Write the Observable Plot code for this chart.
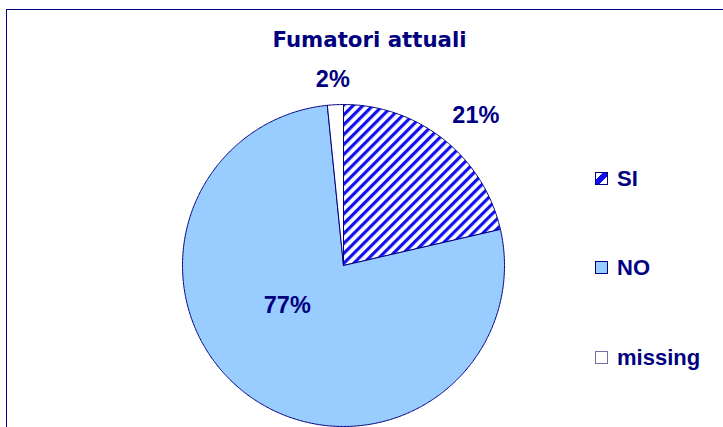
<!DOCTYPE html>
<html><head><meta charset="utf-8">
<script src="https://cdn.jsdelivr.net/npm/d3@7"></script>
<script src="https://cdn.jsdelivr.net/npm/@observablehq/plot@0.6"></script>
<style>
body{margin:0;background:#fff;overflow:hidden;}
#wrap{position:relative;width:723px;height:427px;overflow:hidden;font-family:"Liberation Sans",Arial,sans-serif;color:#000080;background:#fff;}
#frame{position:absolute;left:6px;top:9px;width:800px;height:500px;border:1.5px solid #000080;box-sizing:border-box;}
#chart{position:absolute;left:0;top:0;}
#title{position:absolute;left:369.5px;top:29px;transform:translateX(-50%);white-space:nowrap;font-family:"DejaVu Sans",sans-serif;font-weight:bold;font-size:21.3px;line-height:21px;color:#000080;}
.item{position:absolute;left:595px;display:flex;align-items:flex-start;font-weight:bold;font-size:22px;line-height:22px;white-space:nowrap;}
.sw{width:11px;height:11px;border:1px solid #000080;margin-top:4px;margin-right:9px;flex:none;}
</style>
</head><body>
<div id="wrap">
  <div id="frame"></div>
  <div id="chart"></div>
  <div id="title">Fumatori attuali</div>
  <div id="legend"></div>
</div>
<script>
// ---- data ----
const title = "Fumatori attuali";
const categories = ["SI", "NO", "missing"];
const values = [21.4, 77.0, 1.6];

// ---- styles ----
const W = 723, H = 427;
const cx = 343, cy = 265, R = 161;
const navy = "#000080";
const hatchBlue = "#1010f0";
const fills = {SI: "url(#hatch)", NO: "#99ccff", missing: "#ffffff"};
const legendBg = {
  SI: "linear-gradient(to bottom right, #fff 30%, " + hatchBlue + " 30%, " + hatchBlue + " 64%, #fff 64%)",
  NO: "#99ccff",
  missing: "#ffffff"
};
const legendBorder = {SI: navy, NO: navy, missing: "#7070a8"};
const labelRadius = {SI: 1.2, NO: 0.45, missing: 1.2};
const labelNudge = {SI: [12, 1], NO: [-14, -19], missing: [-1, 7]};

// ---- geometry from values ----
const total = d3.sum(values);
let acc = 0;
const slices = categories.map((c, i) => {
  const a0 = acc / total * 2 * Math.PI;
  acc += values[i];
  const a1 = acc / total * 2 * Math.PI;
  return {c, v: values[i], a0, a1, mid: (a0 + a1) / 2, label: Math.round(values[i]) + "%"};
});
function polygon(s) {
  const pts = [{x: 0, y: 0}];
  const n = Math.max(2, Math.ceil((s.a1 - s.a0) / (Math.PI / 360)));
  for (let k = 0; k <= n; k++) {
    const a = s.a0 + (s.a1 - s.a0) * k / n;
    pts.push({x: Math.sin(a), y: Math.cos(a)});
  }
  pts.push({x: 0, y: 0});
  return pts;
}
const labelData = slices.map(s => ({
  label: s.label,
  x: Math.sin(s.mid) * labelRadius[s.c],
  y: Math.cos(s.mid) * labelRadius[s.c],
  dx: labelNudge[s.c][0], dy: labelNudge[s.c][1]
}));

const defsMark = () => {
  const defs = d3.create("svg:defs");
  const p = defs.append("pattern").attr("id", "hatch")
    .attr("patternUnits", "userSpaceOnUse").attr("width", 7).attr("height", 7)
    .attr("patternTransform", "rotate(45)");
  p.append("rect").attr("width", 7).attr("height", 7).attr("fill", "#fff");
  p.append("rect").attr("width", 3.2).attr("height", 7).attr("fill", hatchBlue);
  return defs.node();
};

const plot = Plot.plot({
  width: W, height: H,
  marginTop: 0, marginRight: 0, marginBottom: 0, marginLeft: 0,
  x: {domain: [-cx / R, (W - cx) / R], axis: null},
  y: {domain: [-(H - cy) / R, cy / R], axis: null},
  style: {background: "transparent", overflow: "visible"},
  marks: [
    defsMark,
    ...slices.map(s => Plot.line(polygon(s), {
      x: "x", y: "y", fill: fills[s.c], stroke: navy, strokeWidth: 1, strokeLinejoin: "round"
    })),
    ...labelData.map(d => Plot.text([d], {
      x: "x", y: "y", text: "label", dx: d.dx, dy: d.dy,
      fontSize: 23.5, fontWeight: "bold", fill: navy,
      fontFamily: "Liberation Sans, Arial, sans-serif"
    }))
  ]
});
document.getElementById("chart").appendChild(plot);
document.getElementById("title").textContent = title;

const legend = document.getElementById("legend");
categories.forEach((c, i) => {
  const it = document.createElement("div");
  it.className = "item";
  it.style.top = (167.5 + i * 89.5) + "px";
  const sw = document.createElement("div");
  sw.className = "sw";
  sw.style.background = legendBg[c];
  sw.style.borderColor = legendBorder[c];
  const t = document.createElement("span");
  t.textContent = c;
  it.appendChild(sw); it.appendChild(t);
  legend.appendChild(it);
});
</script>
</body></html>
